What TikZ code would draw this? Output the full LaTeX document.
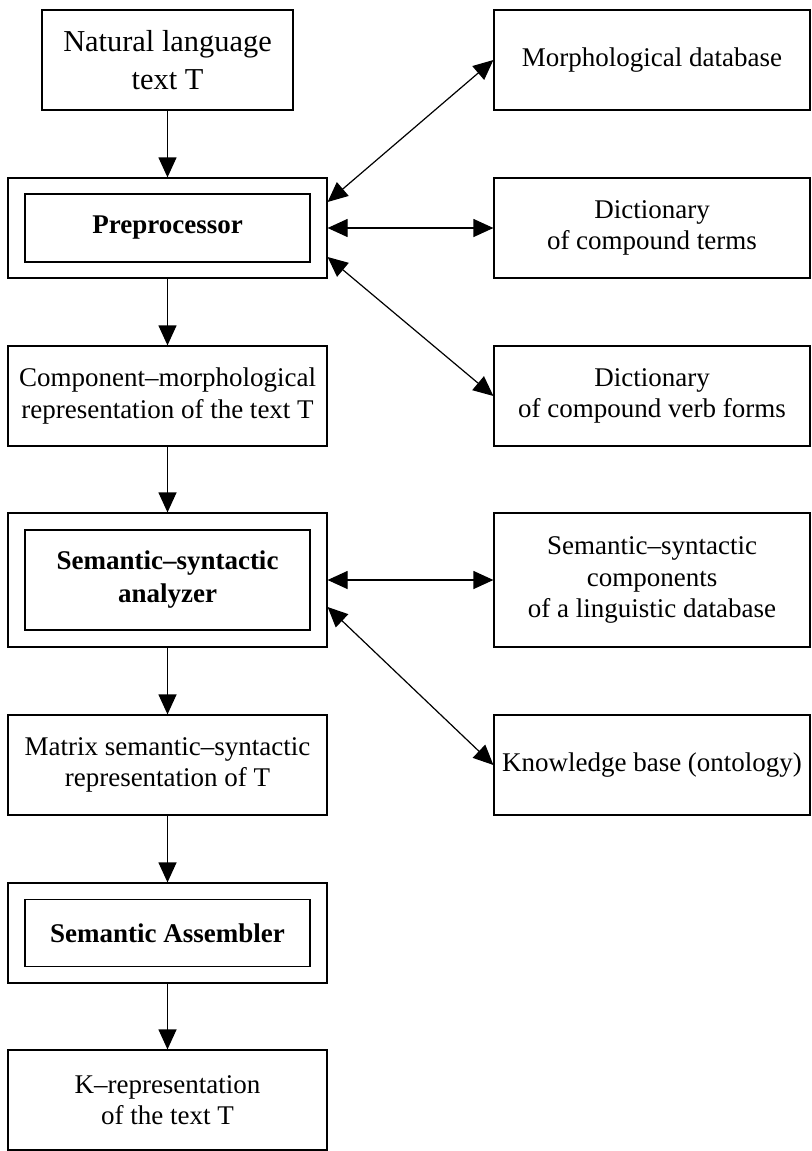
\documentclass[tikz,border=0pt]{standalone}
\usepackage{fontspec}
\setmainfont{Liberation Serif}
\usetikzlibrary{arrows.meta,positioning}

\tikzset{
  box/.style={draw, line width=0.6pt, align=center, inner sep=0pt,
    font=\fontsize{13.5}{15.8}\selectfont},
  lbox/.style={box, minimum width=159.5pt, minimum height=50pt},
  rbox/.style={box, minimum width=158pt, minimum height=50pt},
  inbox/.style={box, minimum width=142.5pt,
    font=\bfseries\fontsize{13.5}{16.5}\selectfont},
  flow/.style={-{Triangle[length=10pt,width=9pt]}, line width=0.6pt},
  link/.style={{Triangle[length=10pt,width=9pt]}-{Triangle[length=10pt,width=9pt]}, line width=0.6pt}
}

\begin{document}
\begin{tikzpicture}[x=0.5pt,y=-0.5pt]
\useasboundingbox (0,0) rectangle (812,1151);

% left column
\node[lbox, minimum width=125.5pt, font=\fontsize{15.2}{19}\selectfont] (nlt) at (167.5,60) {Natural language\\text T};
\node[lbox] (pre) at (167.5,228) {};
\node[inbox, minimum height=34pt] (prein) at (pre) {Preprocessor};
\node[lbox] (cmr) at (167.5,396) {Component--morphological\\representation of the text T};
\node[lbox, minimum height=67pt] (ssa) at (167.5,580) {};
\node[inbox, minimum height=50pt] (ssain) at (ssa) {Semantic--syntactic\\analyzer};
\node[lbox] (msr) at (167.5,765) {Matrix semantic--syntactic\\representation of T};
\node[lbox] (asm) at (167.5,933) {};
\node[inbox, minimum height=33.5pt] (asmin) at (asm) {Semantic Assembler};
\node[lbox] (krep) at (167.5,1100) {K--representation\\of the text T};

% right column
\node[rbox] (mdb) at (652,60) {Morphological database};
\node[rbox] (dct) at (652,228) {Dictionary\\of compound terms};
\node[rbox] (dcv) at (652,396) {Dictionary\\of compound verb forms};
\node[rbox, minimum height=67pt] (ssc) at (652,580) {Semantic--syntactic\\components\\of a linguistic database};
\node[rbox] (kb) at (652,765) {Knowledge base (ontology)};

% main flow
\draw[flow] (nlt) -- (pre);
\draw[flow] (pre) -- (cmr);
\draw[flow] (cmr) -- (ssa);
\draw[flow] (ssa) -- (msr);
\draw[flow] (msr) -- (asm);
\draw[flow] (asm) -- (krep);

% links to the databases
\draw[link] ([yshift=13pt]pre.east) -- (mdb.west);
\draw[link] (pre.east) -- (dct.west);
\draw[link] ([yshift=-14.5pt]pre.east) -- (dcv.west);
\draw[link] (ssa.east) -- (ssc.west);
\draw[link] ([yshift=-13.5pt]ssa.east) -- (kb.west);
\end{tikzpicture}
\end{document}
